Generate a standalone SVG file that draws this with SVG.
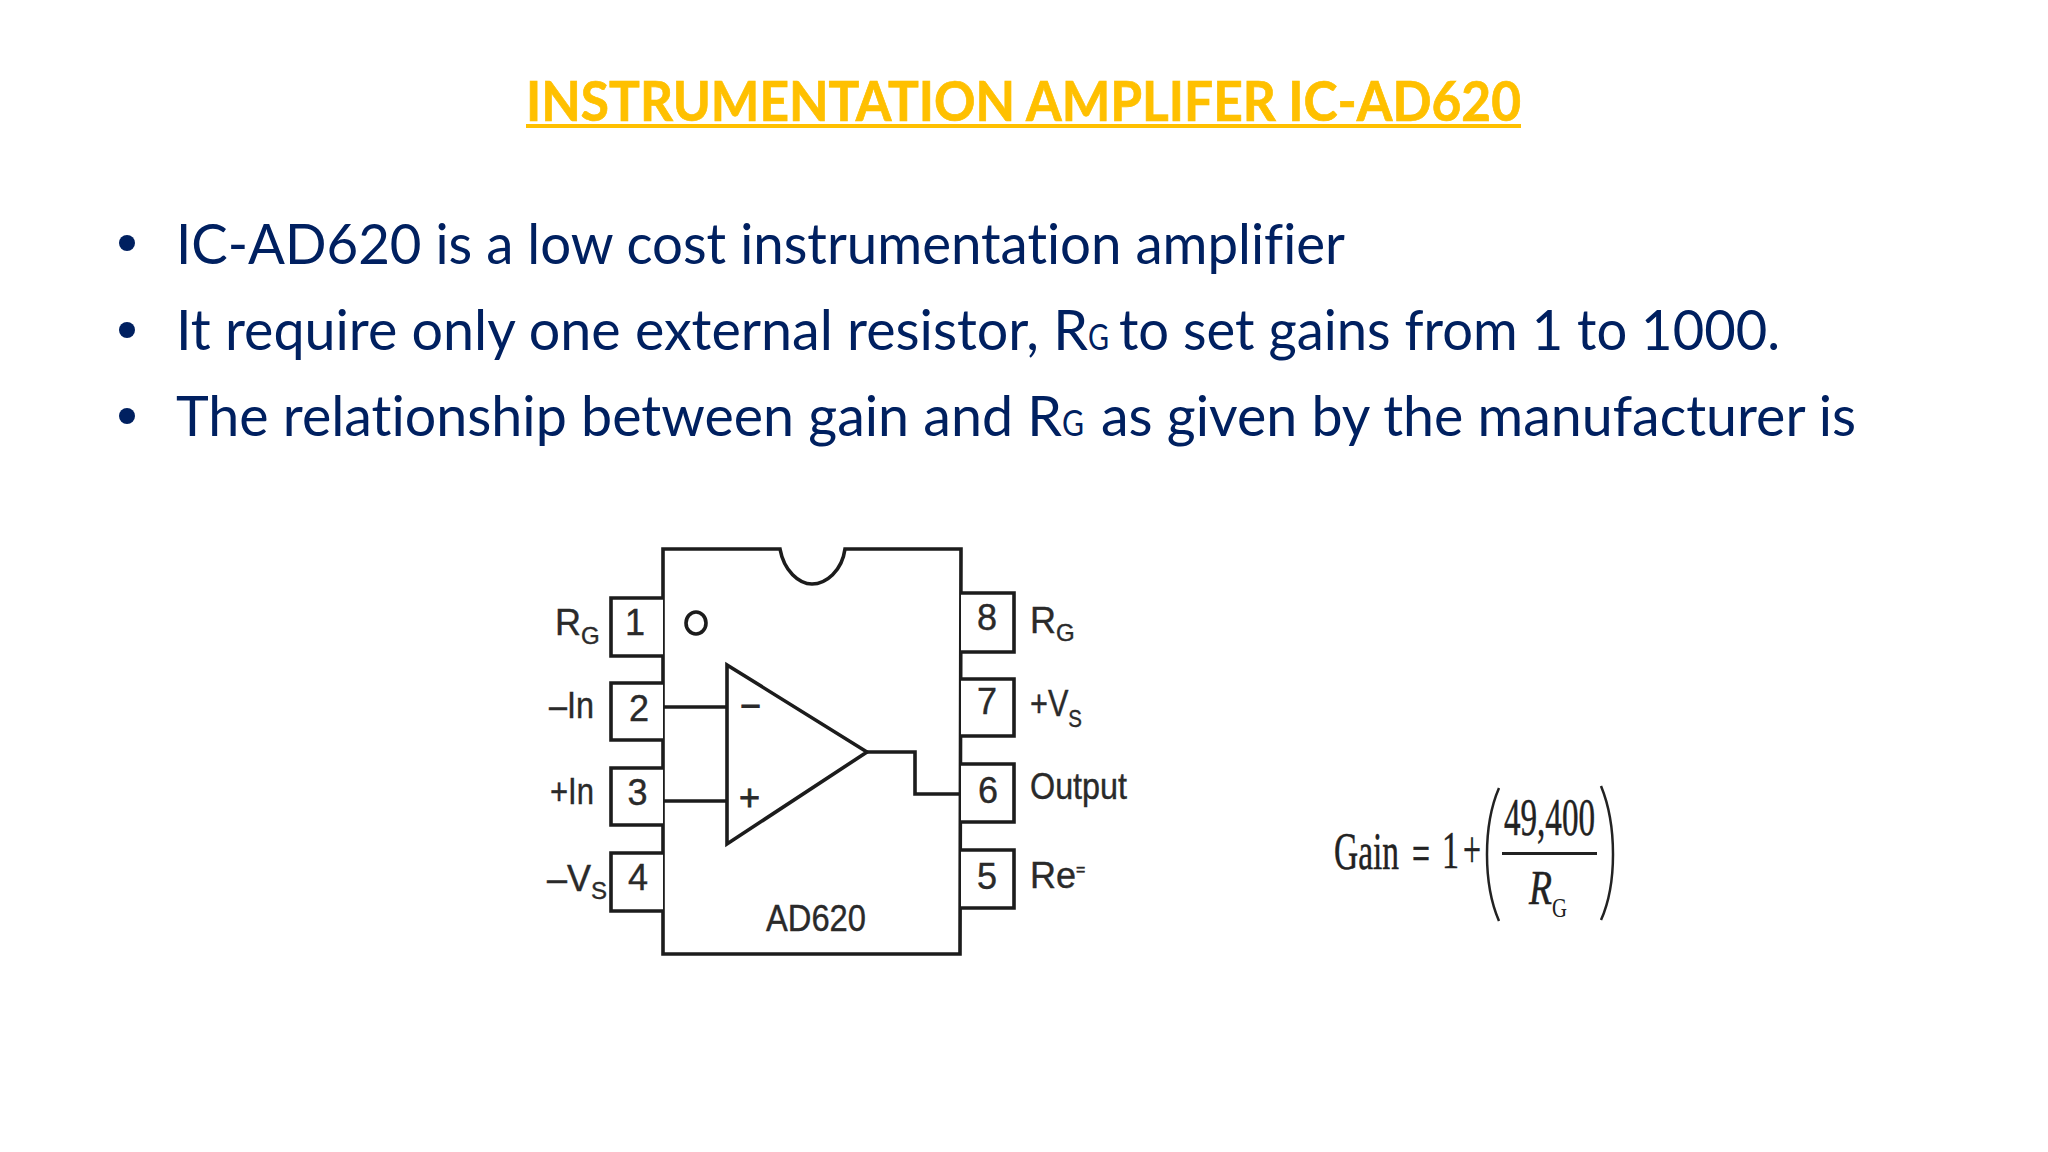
<svg xmlns="http://www.w3.org/2000/svg" width="2048" height="1152" viewBox="0 0 2048 1152">
<style>
.title{font:700 56px Lato,"Liberation Sans",sans-serif;font-variant-ligatures:none;fill:#FFC000;stroke:#FFC000;stroke-width:.7}
.body{font:400 57px Lato,"Liberation Sans",sans-serif;font-variant-ligatures:none;fill:#002060}
.sub{font-size:36px}
.dot{fill:#002060}
.ln{fill:none;stroke:#1c1c1c;stroke-width:3.6;stroke-linejoin:miter}
.pin{fill:#fff;stroke:#1c1c1c;stroke-width:3.6}
.lab{font:400 36px "Liberation Sans",Arial,sans-serif;fill:#2a2a2a;stroke:#2a2a2a;stroke-width:.4}
.s{font-size:24px}
.op{font:400 36px "Liberation Sans",Arial,sans-serif;fill:#2a2a2a;stroke:#2a2a2a;stroke-width:.8}
.eq{font:400 52px "Liberation Serif","Times New Roman",serif;fill:#222;stroke:#222;stroke-width:.5}
.eqr{font:italic 400 48px "Liberation Serif","Times New Roman",serif;fill:#222;stroke:#222;stroke-width:.5}
.eqg{font:400 28px "Liberation Serif","Times New Roman",serif;fill:#222}
</style>
<rect width="2048" height="1152" fill="#fff"/>
<g id="title">
<text class="title" x="526" y="121" textLength="995" lengthAdjust="spacingAndGlyphs">INSTRUMENTATION AMPLIFER IC-AD620</text>
<rect x="526" y="124" width="995" height="4" fill="#FFC000"/>
</g>
<g id="bullets">
<circle class="dot" cx="127" cy="243" r="8"/>
<text class="body" x="176" y="263.500" textLength="1169" lengthAdjust="spacingAndGlyphs">IC-AD620 is a low cost instrumentation amplifier</text>
<circle class="dot" cx="127" cy="330" r="8"/>
<text class="body" y="349.500"><tspan x="176" textLength="912" lengthAdjust="spacingAndGlyphs">It require only one external resistor, R</tspan><tspan class="sub" x="1088" textLength="21" lengthAdjust="spacingAndGlyphs">G</tspan><tspan x="1119" textLength="661" lengthAdjust="spacingAndGlyphs">to set gains from 1 to 1000.</tspan></text>
<circle class="dot" cx="127" cy="416" r="8"/>
<text class="body" y="436"><tspan x="176" textLength="886" lengthAdjust="spacingAndGlyphs">The relationship between gain and R</tspan><tspan class="sub" x="1062" textLength="22" lengthAdjust="spacingAndGlyphs">G</tspan><tspan x="1101" textLength="755" lengthAdjust="spacingAndGlyphs">as given by the manufacturer is</tspan></text>
</g>
<g id="connectors">
<path class="ln" d="M663 707H727"/>
<path class="ln" d="M663 801H727"/>
<path class="ln" d="M867 752H915V794H961"/>
</g>
<g id="ic-body">
<path class="ln" d="M663 549H780C784 571 799 584 812 584C826 584 842 571 845 549H961L960 954H663Z"/>
<ellipse class="ln" cx="696" cy="623" rx="10" ry="11"/>
<text class="lab" x="766" y="931" textLength="100" lengthAdjust="spacingAndGlyphs">AD620</text>
</g>
<g id="op-amp">
<path class="ln" d="M727 665V844L867 752Z"/>
<text class="op" x="740" y="718">−</text>
<text class="op" x="739" y="810">+</text>
</g>
<g id="pin1"><path class="pin" d="M663 598H611V656H663"/><text class="lab" x="635" y="635" text-anchor="middle">1</text><text class="lab" x="555" y="635">R<tspan class="s" dy="9">G</tspan></text></g>
<g id="pin2"><path class="pin" d="M663 683H611V740H663"/><text class="lab" x="639" y="721" text-anchor="middle">2</text><text class="lab" x="549" y="718" textLength="45" lengthAdjust="spacingAndGlyphs">–In</text></g>
<g id="pin3"><path class="pin" d="M663 768H611V825H663"/><text class="lab" x="637.500" y="805" text-anchor="middle">3</text><text class="lab" x="550" y="804" textLength="44" lengthAdjust="spacingAndGlyphs">+In</text></g>
<g id="pin4"><path class="pin" d="M663 853H611V911H663"/><text class="lab" x="638" y="890" text-anchor="middle">4</text><text class="lab" x="547" y="891">–V<tspan class="s" dy="8">S</tspan></text></g>
<g id="pin8"><path class="pin" d="M961 593H1014V652H961"/><text class="lab" x="987" y="630" text-anchor="middle">8</text><text class="lab" x="1030" y="633">R<tspan class="s" dy="8">G</tspan></text></g>
<g id="pin7"><path class="pin" d="M961 679H1014V736H961"/><text class="lab" x="987" y="714" text-anchor="middle">7</text><text class="lab" x="1030" y="716" textLength="52" lengthAdjust="spacingAndGlyphs">+V<tspan class="s" dy="11">S</tspan></text></g>
<g id="pin6"><path class="pin" d="M961 764H1014V822H961"/><text class="lab" x="988" y="803" text-anchor="middle">6</text><text class="lab" x="1030" y="799" textLength="97" lengthAdjust="spacingAndGlyphs">Output</text></g>
<g id="pin5"><path class="pin" d="M961 850H1014V908H961"/><text class="lab" x="987" y="889" text-anchor="middle">5</text><text class="lab" x="1030" y="888">Re<tspan font-size="16" dy="-13">=</tspan></text></g>
<g id="gain-formula">
<text class="eq" x="1334" y="869" textLength="65" lengthAdjust="spacingAndGlyphs">Gain</text>
<text class="eq" x="1412" y="871" textLength="18" lengthAdjust="spacingAndGlyphs" stroke-width="1">=</text>
<text class="eq" x="1442" y="868" textLength="17" lengthAdjust="spacingAndGlyphs">1</text>
<text class="eq" x="1463" y="867" textLength="18" lengthAdjust="spacingAndGlyphs">+</text>
<path d="M1499 788C1483 825 1483 884 1499 921M1601 786C1617 825 1617 884 1601 920" fill="none" stroke="#222" stroke-width="2.500"/>
<text class="eq" x="1504" y="835" textLength="91" lengthAdjust="spacingAndGlyphs">49,400</text>
<rect x="1502" y="852" width="95" height="3" fill="#222"/>
<text class="eqr" x="1529" y="904" textLength="23" lengthAdjust="spacingAndGlyphs">R</text>
<text class="eqg" x="1552" y="917" textLength="15" lengthAdjust="spacingAndGlyphs">G</text>
</g>
</svg>
